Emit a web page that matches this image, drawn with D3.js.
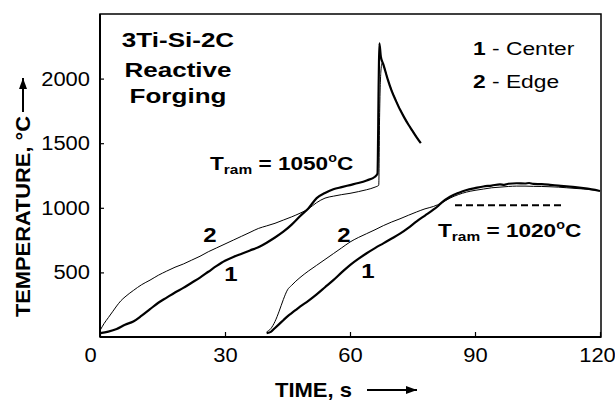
<!DOCTYPE html>
<html>
<head>
<meta charset="utf-8">
<script src="https://cdn.jsdelivr.net/npm/d3@7"></script>
<style>
body { margin: 0; background: #fff; }
svg { display: block; }
text { font-family: "Liberation Sans", Arial, Helvetica, sans-serif; fill: #000; }
</style>
</head>
<body>
<svg id="chart"></svg>
<script>
const width = 615;
const height = 401;

// ---- data (time s, temperature C) ----
const xTicks = [0, 30, 60, 90, 120];
const yTicks = [500, 1000, 1500, 2000];

// first forging, Tram = 1050 C
const run1Center = [[0,30],[2,42],[4,62],[6,95],[8,120],[10,165],[12,215],[14,265],[16,305],[18,345],[20,380],
  [22,420],[24,460],[26,505],[28,550],[30,590],[32,620],[34,645],[36,670],[38,695],[40,730],[42,770],[44,815],
  [46,870],[48,935],[50,995],[52,1075],[54,1115],[56,1143],[58,1160],[60,1176],[62,1192],[64,1212],[66,1240],
  [66.6,1265],[66.9,2000],[67.05,2273],[67.4,2170],[68,2110],[69,2000],[70,1905],[71,1830],[72,1760],[73,1700],
  [74,1645],[75,1595],[76,1545],[77,1500]];
const run1Edge = [[0,50],[1,105],[2,150],[3,195],[4,240],[5,280],[6,310],[8,360],[10,405],[12,440],[14,478],
  [16,510],[18,540],[20,565],[22,595],[24,625],[26,660],[28,690],[30,720],[32,750],[34,780],[36,810],[38,840],
  [40,860],[42,880],[44,905],[46,930],[48,958],[50,992],[52,1040],[54,1075],[56,1090],[58,1102],[60,1112],
  [62,1125],[64,1140],[66,1160],[66.9,1175],[67.1,1700],[67.4,2050],[67.7,2120],[68.3,2080],[69,2000],
  [70,1910],[71,1832],[72,1762],[73,1702],[74,1647],[75,1597],[76,1547],[76.8,1510]];

// second forging, Tram = 1020 C
const run2Center = [[40,30],[41,40],[42,70],[43,100],[44,130],[45,160],[46,185],[47,210],[48,235],[50,280],
  [52,330],[54,385],[56,440],[58,500],[60,557],[62,605],[64,648],[66,688],[68,725],[70,762],[72,800],[74,845],
  [76,895],[78,940],[80,985],[81,1010],[82,1040],[84,1085],[86,1115],[88,1138],[90,1152],[92,1165],[94,1172],
  [96,1182],[97,1178],[98,1186],[100,1190],[102,1188],[103,1192],[104,1185],[106,1183],[108,1178],[110,1172],
  [112,1166],[114,1160],[116,1152],[118,1142],[120,1130]];
const run2Edge = [[40,40],[41,65],[42,120],[43,200],[44,290],[45,365],[46,400],[47,432],[48,460],[50,510],
  [52,555],[54,600],[56,645],[58,690],[60,735],[62,770],[64,800],[66,830],[68,862],[70,890],[72,915],[74,942],
  [76,968],[78,992],[80,1010],[82,1038],[84,1075],[86,1102],[88,1122],[90,1135],[92,1145],[94,1155],[96,1160],
  [98,1165],[100,1168],[102,1168],[104,1166],[106,1165],[108,1163],[110,1160],[112,1155],[114,1150],
  [116,1146],[118,1140],[120,1132]];

const tramLine = [[85.2,1020],[111.2,1020]];

// ---- layout ----
const svg = d3.select('svg#chart').attr('width', width).attr('height', height);

const x = d3.scaleLinear().domain([0, 120]).range([100, 600]);
const y = d3.scaleLinear().domain([0, 2500]).range([337, 14]);

// stretch text horizontally (the scanned lettering is wider than Arial)
function stretch(sel, sx) {
    sel.each(function () {
        const t = d3.select(this);
        const tx = +t.attr('x') || 0;
        const ty = +t.attr('y') || 0;
        t.attr('x', 0).attr('y', 0).attr('transform', 'translate(' + tx + ',' + ty + ') scale(' + sx + ',1)');
    });
}

// axes with inward ticks
const gx = svg.append('g').attr('transform', 'translate(0,' + y(0) + ')')
    .call(d3.axisBottom(x).tickValues(xTicks).tickFormat(d3.format('d'))
        .tickSizeInner(-5).tickSizeOuter(0).tickPadding(10));
const gy = svg.append('g').attr('transform', 'translate(' + x(0) + ',0)')
    .call(d3.axisLeft(y).tickValues(yTicks).tickFormat(d3.format('d'))
        .tickSizeInner(-4).tickSizeOuter(0).tickPadding(10));

[gx, gy].forEach(g => {
    g.select('.domain').remove();
    g.selectAll('.tick line').attr('stroke', '#000').attr('stroke-width', 1.2);
    g.selectAll('.tick text').attr('font-size', 20.5).attr('fill', '#000')
        .attr('font-family', '"Liberation Sans", Arial, sans-serif');
});
gx.selectAll('.tick text').filter(d => d === 0).attr('x', -10);
gx.selectAll('.tick text').filter(d => d === 120).attr('x', -3);
stretch(gx.selectAll('.tick text'), 1.07);
stretch(gy.selectAll('.tick text'), 1.07);

// frame
svg.append('rect')
    .attr('x', x(0)).attr('y', y(2500))
    .attr('width', x(120) - x(0) + 1).attr('height', y(0) - y(2500))
    .attr('fill', 'none').attr('stroke', '#000').attr('stroke-width', 1.5);
svg.append('line').attr('x1', x(0)).attr('x2', x(0)).attr('y1', y(2500)).attr('y2', y(0))
    .attr('stroke', '#000').attr('stroke-width', 2);
svg.append('line').attr('x1', x(0)).attr('x2', x(120) + 1).attr('y1', y(0)).attr('y2', y(0))
    .attr('stroke', '#000').attr('stroke-width', 2);

// curves
const line = d3.line().x(d => x(d[0])).y(d => y(d[1])).curve(d3.curveMonotoneX);
const curves = [
    { data: run1Edge, w: 1 },
    { data: run2Edge, w: 1 },
    { data: run1Center, w: 2.2 },
    { data: run2Center, w: 2.2 },
];
svg.selectAll('path.curve').data(curves).join('path')
    .attr('class', 'curve')
    .attr('d', d => line(d.data))
    .attr('fill', 'none')
    .attr('stroke', '#000')
    .attr('stroke-width', d => d.w)
    .attr('stroke-linejoin', 'round');

svg.append('path')
    .attr('d', d3.line().x(d => x(d[0])).y(d => y(d[1]))(tramLine))
    .attr('stroke', '#000').attr('stroke-width', 2).attr('stroke-dasharray', '7,4');

// text helpers
function label(px, py, sx, anchor) {
    const g = svg.append('g').attr('transform', 'translate(' + px + ',' + py + ') scale(' + sx + ',1)');
    return g.append('text').attr('text-anchor', anchor || 'start');
}

// title block
[['3Ti-Si-2C', 47], ['Reactive', 76.5], ['Forging', 103]].forEach(r => {
    label(178, r[1], 1.24, 'middle').attr('font-size', 21).attr('font-weight', 'bold').text(r[0]);
});

// legend
[['1', ' - Center', 55], ['2', ' - Edge', 88]].forEach(r => {
    const t = label(473, r[2], 1.2).attr('font-size', 19);
    t.append('tspan').attr('font-weight', 'bold').text(r[0]);
    t.append('tspan').text(r[1]);
});

// Tram annotations
function tram(px, py, val) {
    const t = label(px, py, 1.19).attr('font-size', 19).attr('font-weight', 'bold');
    t.append('tspan').text('T');
    t.append('tspan').attr('font-size', 13).attr('dy', 4).text('ram');
    t.append('tspan').attr('dy', -4).text(' = ' + val);
    t.append('tspan').attr('font-size', 12).attr('dy', -8).text('o');
    t.append('tspan').attr('dy', 8).text('C');
}
tram(210, 170, '1050');
tram(438, 236.5, '1020');

// curve numbers
[['2', 210, 241.5], ['1', 231, 281], ['2', 344, 242], ['1', 368, 278]].forEach(r => {
    label(r[1], r[2], 1.2, 'middle').attr('font-size', 20).attr('font-weight', 'bold').text(r[0]);
});

// axis titles
svg.append('text').attr('x', 275).attr('y', 396.5)
    .attr('font-size', 21).attr('font-weight', 'bold')
    .attr('textLength', 77).attr('lengthAdjust', 'spacingAndGlyphs').text('TIME, s');
svg.append('text').attr('transform', 'translate(30,317) rotate(-90)')
    .attr('font-size', 21).attr('font-weight', 'bold')
    .attr('textLength', 201).attr('lengthAdjust', 'spacingAndGlyphs').text('TEMPERATURE, \u00B0C');

// arrows
function arrow(x1, y1, x2, y2) {
    svg.append('line').attr('x1', x1).attr('y1', y1).attr('x2', x2).attr('y2', y2)
        .attr('stroke', '#000').attr('stroke-width', 2);
    const a = Math.atan2(y2 - y1, x2 - x1);
    const L = 11, W = 4;
    const p = [
        [x2, y2],
        [x2 - L * Math.cos(a) + W * Math.sin(a), y2 - L * Math.sin(a) - W * Math.cos(a)],
        [x2 - L * Math.cos(a) - W * Math.sin(a), y2 - L * Math.sin(a) + W * Math.cos(a)],
    ];
    svg.append('path').attr('d', 'M' + p.join('L') + 'Z').attr('fill', '#000');
}
arrow(367, 390, 417, 390);
arrow(23, 112, 23, 78);
</script>
</body>
</html>
